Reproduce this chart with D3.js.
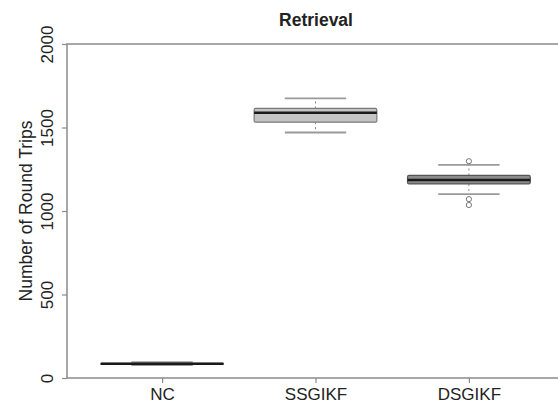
<!DOCTYPE html>
<html>
<head>
<meta charset="utf-8">
<script src="https://cdn.jsdelivr.net/npm/d3@7"></script>
<style>
  body { margin: 0; background: #fff; }
  svg { display: block; font-family: "Liberation Sans", Arial, Helvetica, sans-serif; }
</style>
</head>
<body>
<div id="chart"></div>
<script>
// values
var categories = ["NC", "SSGIKF", "DSGIKF"];
var lowerWhisker = [77, 1470, 1101];
var q1 = [83, 1532, 1162];
var median = [85, 1589, 1186];
var q3 = [87, 1614, 1213];
var upperWhisker = [95, 1675, 1276];
var outliers = [[], [], [1298, 1071, 1036]];
var yTicks = [0, 500, 1000, 1500, 2000];

var width = 558, height = 409;
// plot region (window.top is reserved, so use other names)
var plotLeft = 67, plotTop = 44, plotBottom = 378, plotRight = 564;

var svg = d3.select("#chart")
    .append("svg")
    .attr("width", width)
    .attr("height", height);

// R style x range: 0.5..n+0.5 padded 4%
var x = d3.scaleLinear().domain([0.38, 3.62]).range([plotLeft, plotRight]);
var y = d3.scaleLinear().domain([0, 2000]).range([plotBottom, plotTop]);

var boxW = x(1.8) - x(1);   // boxwex 0.8
var stapleW = boxW / 2;

var fills = ["#9a9a9a", "#c4c4c4", "#8c8c8c"];
var strokes = ["#666", "#7a7a7a", "#555"];

// frame (left, top, bottom; right side is off the page)
svg.append("rect")
    .attr("x", plotLeft).attr("y", plotTop)
    .attr("width", plotRight - plotLeft).attr("height", plotBottom - plotTop)
    .attr("fill", "none").attr("stroke", "#8a8a8a").attr("stroke-width", 1.5);

// y axis
var yAxis = svg.append("g")
    .attr("transform", "translate(" + plotLeft + ",0)")
    .call(d3.axisLeft(y).tickValues(yTicks).tickSize(5).tickSizeOuter(0).tickFormat(d3.format("d")));
yAxis.select(".domain").remove();
yAxis.selectAll(".tick line").attr("stroke", "#8a8a8a").attr("stroke-width", 1.2);
yAxis.selectAll(".tick text")
    .attr("x", null).attr("dy", null)
    .attr("transform", "translate(-14,0) rotate(-90)")
    .attr("text-anchor", "middle")
    .attr("fill", "#222")
    .style("font-size", "17px");

// x axis
var xAxis = svg.append("g")
    .attr("transform", "translate(0," + plotBottom + ")")
    .call(d3.axisBottom(x).tickValues([1, 2, 3]).tickSize(5).tickFormat(function (d) { return categories[d - 1]; }));
xAxis.select(".domain").remove();
xAxis.selectAll(".tick line").attr("stroke", "#8a8a8a").attr("stroke-width", 1.2);
xAxis.selectAll(".tick text")
    .attr("y", 10)
    .attr("fill", "#222")
    .style("font-size", "17px");

// boxes
categories.forEach(function (c, i) {
  var cx = x(i + 1);
  var g = svg.append("g");

  // whiskers (dashed)
  g.append("line")
    .attr("x1", cx).attr("x2", cx)
    .attr("y1", y(q3[i])).attr("y2", y(upperWhisker[i]))
    .attr("stroke", "#888").attr("stroke-dasharray", "2,3").attr("stroke-width", 1);
  g.append("line")
    .attr("x1", cx).attr("x2", cx)
    .attr("y1", y(q1[i])).attr("y2", y(lowerWhisker[i]))
    .attr("stroke", "#888").attr("stroke-dasharray", "2,3").attr("stroke-width", 1);

  // staples
  [upperWhisker[i], lowerWhisker[i]].forEach(function (v) {
    g.append("line")
      .attr("x1", cx - stapleW / 2).attr("x2", cx + stapleW / 2)
      .attr("y1", y(v)).attr("y2", y(v))
      .attr("stroke", "#9a9a9a").attr("stroke-width", 1.8);
  });

  // box
  g.append("rect")
    .attr("x", cx - boxW / 2).attr("y", y(q3[i]))
    .attr("width", boxW).attr("height", Math.max(1, y(q1[i]) - y(q3[i])))
    .attr("rx", 1.5)
    .attr("fill", fills[i]).attr("stroke", strokes[i]).attr("stroke-width", 1.2);

  // median
  g.append("line")
    .attr("x1", cx - boxW / 2).attr("x2", cx + boxW / 2)
    .attr("y1", y(median[i])).attr("y2", y(median[i]))
    .attr("stroke", "#1a1a1a").attr("stroke-width", 2.5);

  // outliers
  g.selectAll("circle")
    .data(outliers[i])
    .enter()
    .append("circle")
    .attr("cx", cx)
    .attr("cy", function (d) { return y(d); })
    .attr("r", 2.6)
    .attr("fill", "none").attr("stroke", "#777").attr("stroke-width", 1);
});

// titles
svg.append("text")
    .attr("x", 316).attr("y", 26)
    .attr("text-anchor", "middle")
    .attr("font-weight", "bold")
    .style("font-size", "17.5px")
    .attr("fill", "#222")
    .text("Retrieval");

svg.append("text")
    .attr("transform", "translate(26," + ((plotTop + plotBottom) / 2) + ") rotate(-90)")
    .attr("text-anchor", "middle")
    .attr("dy", "0.35em")
    .style("font-size", "17.5px")
    .attr("fill", "#222")
    .text("Number of Round Trips");
</script>
</body>
</html>
